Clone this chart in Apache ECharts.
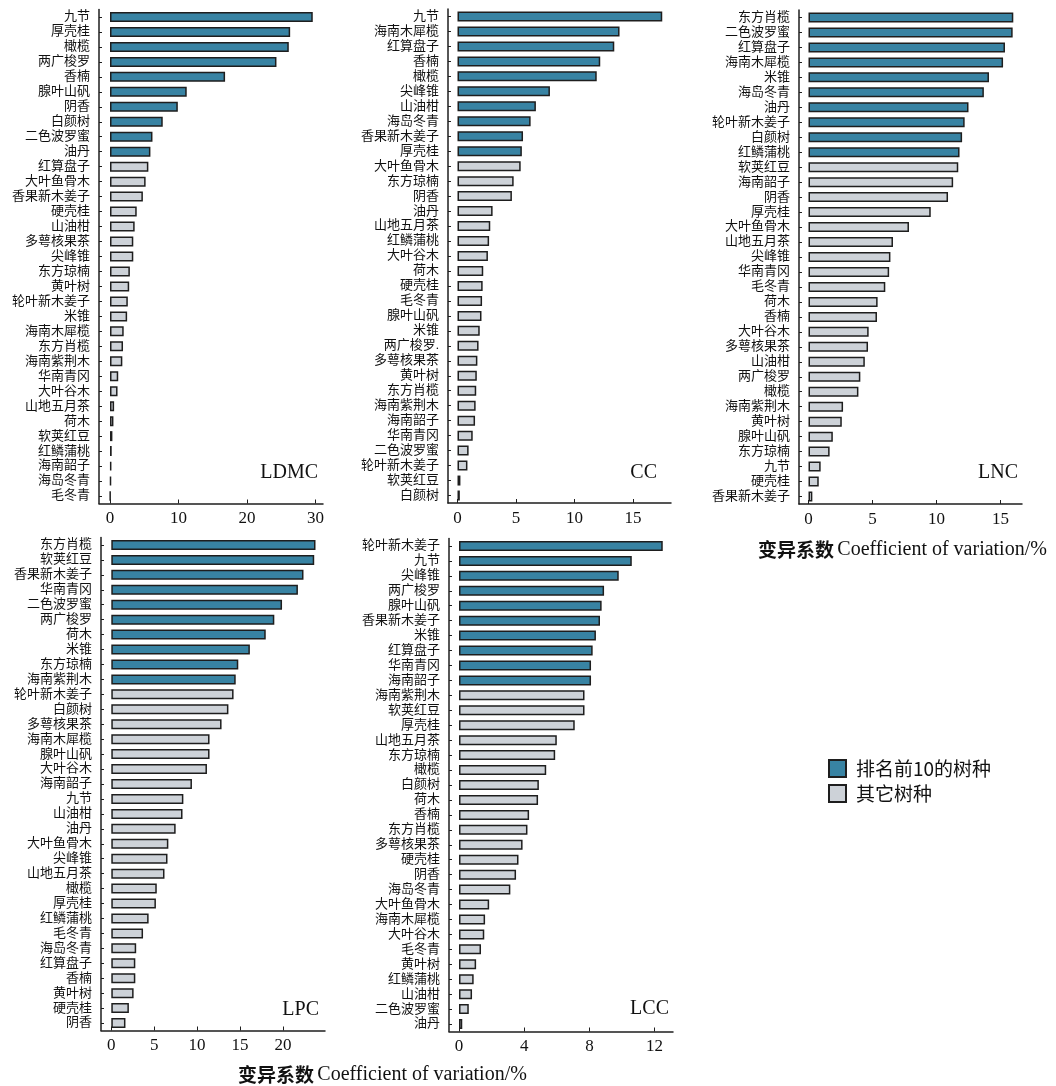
<!DOCTYPE html>
<html>
<head>
<meta charset="utf-8">
<script src="https://cdn.jsdelivr.net/npm/echarts@6/dist/echarts.min.js"></script>
<style>
  html, body { margin: 0; padding: 0; background: #ffffff; }
  #chart { width: 1056px; height: 1086px; }
</style>
</head>
<body>
<div id="chart"></div>
<script>
// Coefficient of variation (%) of five leaf traits across 33 tree species,
// each list sorted from largest to smallest; the first 10 are the top-ranked species.

const ldmcSpecies = ['九节','厚壳桂','橄榄','两广梭罗','香楠','腺叶山矾','阴香','白颜树','二色波罗蜜','油丹',
  '红算盘子','大叶鱼骨木','香果新木姜子','硬壳桂','山油柑','多萼核果茶','尖峰锥','东方琼楠','黄叶树','轮叶新木姜子',
  '米锥','海南木犀榄','东方肖榄','海南紫荆木','华南青冈','大叶谷木','山地五月茶','荷木','软荚红豆','红鳞蒲桃',
  '海南韶子','海岛冬青','毛冬青'];
const ldmcValues = [29.6, 26.3, 26.1, 24.3, 16.8, 11.2, 9.9, 7.7, 6.2, 5.9,
  5.6, 5.2, 4.8, 3.9, 3.6, 3.4, 3.4, 2.9, 2.8, 2.6,
  2.5, 2.0, 1.9, 1.8, 1.2, 1.1, 0.6, 0.5, 0.35, 0.25,
  0.2, 0.15, 0.05];

const ccSpecies = ['九节','海南木犀榄','红算盘子','香楠','橄榄','尖峰锥','山油柑','海岛冬青','香果新木姜子','厚壳桂',
  '大叶鱼骨木','东方琼楠','阴香','油丹','山地五月茶','红鳞蒲桃','大叶谷木','荷木','硬壳桂','毛冬青',
  '腺叶山矾','米锥','两广梭罗.','多萼核果茶','黄叶树','东方肖榄','海南紫荆木','海南韶子','华南青冈','二色波罗蜜',
  '轮叶新木姜子','软荚红豆','白颜树'];
const ccValues = [17.5, 13.85, 13.4, 12.2, 11.9, 7.9, 6.7, 6.25, 5.6, 5.5,
  5.4, 4.8, 4.65, 3.0, 2.8, 2.7, 2.6, 2.2, 2.15, 2.1,
  2.05, 1.9, 1.8, 1.7, 1.65, 1.6, 1.55, 1.5, 1.3, 0.95,
  0.85, 0.25, 0.2];

const lncSpecies = ['东方肖榄','二色波罗蜜','红算盘子','海南木犀榄','米锥','海岛冬青','油丹','轮叶新木姜子','白颜树','红鳞蒲桃',
  '软荚红豆','海南韶子','阴香','厚壳桂','大叶鱼骨木','山地五月茶','尖峰锥','华南青冈','毛冬青','荷木',
  '香楠','大叶谷木','多萼核果茶','山油柑','两广梭罗','橄榄','海南紫荆木','黄叶树','腺叶山矾','东方琼楠',
  '九节','硬壳桂','香果新木姜子'];
const lncValues = [16.0, 15.95, 15.35, 15.2, 14.1, 13.7, 12.5, 12.2, 12.0, 11.8,
  11.7, 11.3, 10.9, 9.55, 7.85, 6.6, 6.4, 6.3, 6.0, 5.4,
  5.35, 4.7, 4.65, 4.4, 4.05, 3.9, 2.7, 2.6, 1.9, 1.65,
  0.95, 0.8, 0.3];

const lpcSpecies = ['东方肖榄','软荚红豆','香果新木姜子','华南青冈','二色波罗蜜','两广梭罗','荷木','米锥','东方琼楠','海南紫荆木',
  '轮叶新木姜子','白颜树','多萼核果茶','海南木犀榄','腺叶山矾','大叶谷木','海南韶子','九节','山油柑','油丹',
  '大叶鱼骨木','尖峰锥','山地五月茶','橄榄','厚壳桂','红鳞蒲桃','毛冬青','海岛冬青','红算盘子','香楠',
  '黄叶树','硬壳桂','阴香'];
const lpcValues = [23.8, 23.65, 22.4, 21.75, 19.9, 19.0, 18.0, 16.15, 14.8, 14.5,
  14.25, 13.65, 12.85, 11.45, 11.45, 11.15, 9.4, 8.4, 8.3, 7.5,
  6.65, 6.55, 6.2, 5.3, 5.2, 4.35, 3.7, 2.9, 2.8, 2.8,
  2.6, 2.05, 1.65];

const lccSpecies = ['轮叶新木姜子','九节','尖峰锥','两广梭罗','腺叶山矾','香果新木姜子','米锥','红算盘子','华南青冈','海南韶子',
  '海南紫荆木','软荚红豆','厚壳桂','山地五月茶','东方琼楠','橄榄','白颜树','荷木','香楠','东方肖榄',
  '多萼核果茶','硬壳桂','阴香','海岛冬青','大叶鱼骨木','海南木犀榄','大叶谷木','毛冬青','黄叶树','红鳞蒲桃',
  '山油柑','二色波罗蜜','油丹'];
const lccValues = [12.5, 10.6, 9.8, 8.9, 8.75, 8.65, 8.4, 8.2, 8.1, 8.1,
  7.7, 7.7, 7.1, 6.0, 5.9, 5.35, 4.9, 4.85, 4.3, 4.2,
  3.9, 3.65, 3.5, 3.15, 1.85, 1.6, 1.55, 1.35, 1.05, 0.9,
  0.8, 0.6, 0.2];

const ldmcTicks = [0, 10, 20, 30];
const ccTicks = [0, 5, 10, 15];
const lncTicks = [0, 5, 10, 15];
const lpcTicks = [0, 5, 10, 15, 20];
const lccTicks = [0, 4, 8, 12];

const TOP_N = 10;
const TOP_NAME = '排名前10的树种';
const OTHER_NAME = '其它树种';
const AXIS_TITLE_CN = '变异系数';
const AXIS_TITLE_EN = 'Coefficient of variation/%';

const TEAL = '#3883a3';
const GREY = '#cdd2d8';
const EDGE = '#1e1e1e';
const SERIF = '"Liberation Serif", "Times New Roman", "Noto Sans CJK SC", serif';

// panel layout: y-axis line x, pixel of value 0, pixels per unit, right end of x axis
const panels = [
  { label: 'LDMC', species: ldmcSpecies, values: ldmcValues, ticks: ldmcTicks,
    axisX: 99, zeroX: 110, ppu: 6.85, rightX: 323, top: 9.5, height: 494 },
  { label: 'CC', species: ccSpecies, values: ccValues, ticks: ccTicks,
    axisX: 448, zeroX: 457.5, ppu: 11.7, rightX: 671, top: 9, height: 494 },
  { label: 'LNC', species: lncSpecies, values: lncValues, ticks: lncTicks,
    axisX: 799, zeroX: 808.5, ppu: 12.8, rightX: 1022, top: 10, height: 494 },
  { label: 'LPC', species: lpcSpecies, values: lpcValues, ticks: lpcTicks,
    axisX: 101, zeroX: 111.3, ppu: 8.58, rightX: 325, top: 537.5, height: 493 },
  { label: 'LCC', species: lccSpecies, values: lccValues, ticks: lccTicks,
    axisX: 449, zeroX: 459, ppu: 16.3, rightX: 673, top: 538.5, height: 493 }
];

const grids = [], xAxes = [], yAxes = [], series = [], graphics = [];

panels.forEach((p, i) => {
  grids.push({ left: p.axisX, top: p.top, width: p.rightX - p.axisX, height: p.height, containLabel: false });

  xAxes.push({
    type: 'value', gridIndex: i,
    min: (p.axisX - p.zeroX) / p.ppu,
    max: (p.rightX - p.zeroX) / p.ppu,
    splitLine: { show: false },
    axisLine: { show: true, onZero: false, lineStyle: { color: EDGE, width: 1.5 } },
    axisTick: { show: true, inside: true, length: 4, customValues: p.ticks, lineStyle: { color: EDGE, width: 1 } },
    axisLabel: { customValues: p.ticks, fontFamily: SERIF, fontSize: 17, color: '#111', margin: 7 }
  });

  yAxes.push({
    type: 'category', gridIndex: i, data: p.species, inverse: true,
    axisLine: { show: true, onZero: false, lineStyle: { color: EDGE, width: 1.5 } },
    axisTick: { show: true, inside: true, length: 3, alignWithLabel: true, lineStyle: { color: EDGE, width: 1 } },
    axisLabel: { fontFamily: SERIF, fontSize: 13, color: '#111', margin: 9, interval: 0 },
    splitLine: { show: false }
  });

  const common = {
    type: 'bar', xAxisIndex: i, yAxisIndex: i, barWidth: 10, barGap: '-100%',
    silent: true, animation: false
  };
  series.push(Object.assign({}, common, {
    name: TOP_NAME,
    itemStyle: { color: TEAL, borderColor: EDGE, borderWidth: 1.5 },
    data: p.values.map((v, j) => (j < TOP_N ? v : '-'))
  }));
  series.push(Object.assign({}, common, {
    name: OTHER_NAME,
    itemStyle: { color: GREY, borderColor: EDGE, borderWidth: 1.5 },
    data: p.values.map((v, j) => (j < TOP_N ? '-' : v))
  }));
});

// trait names in the lower-right corner of each panel
const labelPos = [[318, 473], [657, 473], [1018, 473], [319, 1010], [669, 1009]];
panels.forEach((p, i) => {
  graphics.push({
    type: 'text', x: labelPos[i][0], y: labelPos[i][1], silent: true,
    style: { text: p.label, font: '20px ' + SERIF, fill: '#111', align: 'right', verticalAlign: 'middle' }
  });
});

// shared x-axis titles
function axisTitle(x, y) {
  return {
    type: 'text', x: x, y: y, silent: true,
    style: {
      text: '{cn|' + AXIS_TITLE_CN + '} {en|' + AXIS_TITLE_EN + '}',
      align: 'left', verticalAlign: 'middle',
      rich: {
        cn: { fontFamily: '"Noto Sans CJK SC", sans-serif', fontWeight: 'bold', fontSize: 19, fill: '#111' },
        en: { fontFamily: SERIF, fontSize: 20, fill: '#111' }
      }
    }
  };
}
graphics.push(axisTitle(758, 550));
graphics.push(axisTitle(238, 1075));

const chart = echarts.init(document.getElementById('chart'), null, { renderer: 'canvas' });
chart.setOption({
  backgroundColor: '#ffffff',
  animation: false,
  grid: grids,
  xAxis: xAxes,
  yAxis: yAxes,
  series: series,
  legend: {
    data: [TOP_NAME, OTHER_NAME],
    orient: 'vertical', left: 828, top: 759, padding: 0,
    itemWidth: 17, itemHeight: 17, itemGap: 6, icon: 'rect',
    selectedMode: false,
    textStyle: { fontFamily: '"Noto Sans CJK SC", ' + SERIF, fontSize: 19, color: '#111', padding: [0, 0, 0, 5] }
  },
  graphic: graphics
});
</script>
</body>
</html>
